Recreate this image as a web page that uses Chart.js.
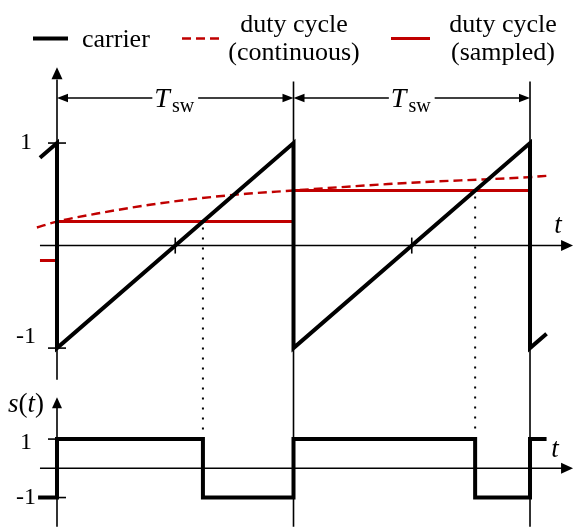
<!DOCTYPE html>
<html>
<head>
<meta charset="utf-8">
<script src="https://cdn.jsdelivr.net/npm/chart.js@4/dist/chart.umd.min.js"></script>
<style>
  html, body { margin: 0; padding: 0; background: #fff; }
  canvas { display: block; }
</style>
</head>
<body>
<canvas id="pwm" width="574" height="530"></canvas>
<script>
// Time is measured in switching periods (T_sw = 1).

// Triangular (sawtooth) carrier
const carrierT = [-0.072, 0, 0, 1, 1, 2, 2, 2.07];
const carrierV = [0.856, 1, -1, 1, -1, 1, -1, -0.86];

// Continuous duty-cycle reference
const dutyT = [-0.085, 0, 0.2, 0.4, 0.6, 0.8, 1.0, 1.2, 1.4, 1.6, 1.8, 2.0, 2.07];
const dutyV = [0.176, 0.234, 0.325, 0.40, 0.46, 0.505, 0.537, 0.57, 0.60, 0.625, 0.645, 0.668, 0.68];

// Duty cycle sampled at the start of each period
const sampleStart = [-0.072, 0, 1];
const sampleEnd   = [0, 1, 2];
const sampleV     = [-0.146, 0.234, 0.537];

// Switching function s(t): level taken from each instant onwards
const switchT = [-0.08, 0, 0.617, 1, 1.768, 2, 2.07];
const switchV = [-1, 1, -1, 1, -1, 1, 1];

// Carrier zero crossings (small marks on the time axis)
const crossT = [0.5, 1.5];

// Period boundaries and tick labels
const periodT = [0, 1, 2];
const yTicks = [1, -1];
const yTickLabels = ['1', '-1'];

const RED = '#c00000';
const SERIF = '"Liberation Serif", "Times New Roman", serif';

const pts = (xs, ys) => xs.map((x, i) => ({ x, y: ys[i] }));

const sampledPts = [];
sampleV.forEach((v, i) => {
  sampledPts.push({ x: sampleStart[i], y: v }, { x: sampleEnd[i], y: v });
  if (i < sampleV.length - 1) sampledPts.push({ x: sampleEnd[i], y: null });
});

function seg(ctx, x1, y1, x2, y2) {
  ctx.beginPath(); ctx.moveTo(x1, y1); ctx.lineTo(x2, y2); ctx.stroke();
}
function head(ctx, tx, ty, dir, len, half) {
  ctx.beginPath();
  ctx.moveTo(tx, ty);
  if (dir === 'up')    { ctx.lineTo(tx - half, ty + len); ctx.lineTo(tx + half, ty + len); }
  if (dir === 'right') { ctx.lineTo(tx - len, ty - half); ctx.lineTo(tx - len, ty + half); }
  if (dir === 'left')  { ctx.lineTo(tx + len, ty - half); ctx.lineTo(tx + len, ty + half); }
  ctx.closePath(); ctx.fill();
}

const decor = {
  id: 'decor',
  beforeDatasetsDraw(chart) {
    const { ctx, scales: { x, y, y2 } } = chart;
    const X = v => x.getPixelForValue(v);
    const Y = v => y.getPixelForValue(v);
    const Y2 = v => y2.getPixelForValue(v);
    ctx.save();
    ctx.strokeStyle = '#000';
    ctx.fillStyle = '#000';
    ctx.lineWidth = 1.6;
    ctx.lineCap = 'butt';

    const xStart = X(-0.072), xTip = X(2.182);
    // time axes with arrows
    seg(ctx, xStart, Y(0), xTip - 10, Y(0));
    head(ctx, xTip, Y(0), 'right', 12, 5.5);
    seg(ctx, xStart, Y2(0), xTip - 10, Y2(0));
    head(ctx, xTip, Y2(0), 'right', 12, 5.5);

    // vertical axes
    const x0 = X(0);
    seg(ctx, x0, Y(1.62), x0, Y(-1.31));
    head(ctx, x0, Y(1.74), 'up', 12, 5.5);
    seg(ctx, x0, Y2(2.2), x0, Y2(-2.0));
    head(ctx, x0, Y2(2.43), 'up', 11, 5);

    // period boundaries
    periodT.slice(1).forEach(t => seg(ctx, X(t), Y(1.6), X(t), Y2(-2.0)));

    // tick marks on the vertical axes
    yTicks.forEach(v => {
      seg(ctx, x0 - 9, Y(v), x0 + 9, Y(v));
      seg(ctx, x0 - 9, Y2(v), x0 + 9, Y2(v));
    });
    // zero crossings of the carrier
    crossT.forEach(t => seg(ctx, X(t), Y(0) - 8, X(t), Y(0) + 8));

    // dotted lines from carrier/reference intersection to s(t)
    ctx.setLineDash([2, 8]);
    ctx.lineWidth = 2;
    switchT.forEach((t, i) => {
      if (i > 0 && switchV[i] === -1 && switchV[i - 1] === 1) {
        const k = sampleStart.findIndex((s, j) => t >= s && t < sampleEnd[j]);
        seg(ctx, X(t), Y(sampleV[k]) + 6, X(t), Y2(1) - 3);
      }
    });
    ctx.setLineDash([]);

    // T_sw dimension arrows
    ctx.lineWidth = 1.6;
    const ay = Y(1.44);
    periodT.slice(0, -1).forEach(t => {
      const a = X(t), b = X(t + 1), c = X(t + 0.5);
      seg(ctx, a + 8, ay, b - 8, ay);
      head(ctx, a, ay, 'left', 11, 4.2);
      head(ctx, b, ay, 'right', 11, 4.2);
      ctx.font = 'italic 28px ' + SERIF;
      const wT = ctx.measureText('T').width;
      ctx.font = '20px ' + SERIF;
      const wS = ctx.measureText('sw').width;
      const w = wT + wS;
      ctx.fillStyle = '#fff';
      ctx.fillRect(c - w / 2 - 4, ay - 8, w + 8, 16);
      ctx.fillStyle = '#000';
      ctx.textAlign = 'left';
      ctx.textBaseline = 'alphabetic';
      ctx.font = 'italic 28px ' + SERIF;
      ctx.fillText('T', c - w / 2 - 2, ay + 9);
      ctx.font = '20px ' + SERIF;
      ctx.fillText('sw', c - w / 2 + wT, ay + 14);
    });

    // tick labels
    ctx.font = '24px ' + SERIF;
    ctx.textAlign = 'center';
    ctx.textBaseline = 'middle';
    yTicks.forEach((v, i) => {
      ctx.fillText(yTickLabels[i], 26, Y(v) + (v < 0 ? -11 : 0));
      ctx.fillText(yTickLabels[i], 26, Y2(v) + (v > 0 ? 4 : 0));
    });

    // axis names
    ctx.font = 'italic 27px ' + SERIF;
    ctx.fillText('t', X(2.118), Y(0.19));
    ctx.fillText('t', X(2.106), Y2(0.62));

    // s(t)
    const parts = [['s', true], ['(', false], ['t', true], [')', false]];
    const widths = parts.map(([s, it]) => {
      ctx.font = (it ? 'italic ' : '') + '27px ' + SERIF;
      return ctx.measureText(s).width;
    });
    let sx = 26 - widths.reduce((a, b) => a + b, 0) / 2;
    ctx.textAlign = 'left';
    parts.forEach(([s, it], i) => {
      ctx.font = (it ? 'italic ' : '') + '27px ' + SERIF;
      ctx.fillText(s, sx, Y2(2.16));
      sx += widths[i];
    });
    ctx.restore();
  },
  afterDraw(chart) {
    const { ctx } = chart;
    const items = [
      { ds: 0, x1: 33, x2: 68, textX: 82, align: 'left' },
      { ds: 1, x1: 182, x2: 221, textX: 294, align: 'center' },
      { ds: 2, x1: 391, x2: 430, textX: 503, align: 'center' }
    ];
    ctx.save();
    ctx.font = '26px ' + SERIF;
    ctx.fillStyle = '#000';
    ctx.textBaseline = 'alphabetic';
    items.forEach(it => {
      const d = chart.data.datasets[it.ds];
      ctx.strokeStyle = d.borderColor;
      ctx.lineWidth = d.borderWidth;
      ctx.setLineDash(d.borderDash || []);
      seg(ctx, it.x1, 38.5, it.x2, 38.5);
      ctx.setLineDash([]);
      ctx.textAlign = it.align;
      const lines = d.label.split('\n');
      if (lines.length === 1) {
        ctx.fillText(lines[0], it.textX, 47);
      } else {
        ctx.fillText(lines[0], it.textX, 31.5);
        ctx.fillText(lines[1], it.textX, 60);
      }
    });
    ctx.restore();
  }
};

new Chart(document.getElementById('pwm'), {
  type: 'line',
  data: {
    datasets: [
      { label: 'carrier', data: pts(carrierT, carrierV), borderColor: '#000', borderWidth: 4, yAxisID: 'y' },
      { label: 'duty cycle\n(continuous)', data: pts(dutyT, dutyV), borderColor: RED, borderWidth: 2.4, borderDash: [9, 5], cubicInterpolationMode: 'monotone', yAxisID: 'y' },
      { label: 'duty cycle\n(sampled)', data: sampledPts, borderColor: RED, borderWidth: 3, yAxisID: 'y' },
      { label: 's(t)', data: pts(switchT, switchV), borderColor: '#000', borderWidth: 4, stepped: 'before', yAxisID: 'y2' }
    ]
  },
  options: {
    responsive: false,
    animation: false,
    events: [],
    layout: { padding: { top: 60, left: 0, right: 0, bottom: 0 } },
    elements: { point: { radius: 0 }, line: { tension: 0, fill: false, borderCapStyle: 'butt', borderJoinStyle: 'miter' } },
    plugins: { legend: { display: false }, tooltip: { enabled: false } },
    scales: {
      x: { type: 'linear', min: -0.241, max: 2.186, display: false },
      y: { type: 'linear', min: -1.36, max: 1.81, display: false, stack: 'panels', stackWeight: 325, weight: 2 },
      y2: { type: 'linear', min: -2.11, max: 2.85, display: false, stack: 'panels', stackWeight: 145, weight: 1 }
    }
  },
  plugins: [decor]
});
</script>
</body>
</html>
